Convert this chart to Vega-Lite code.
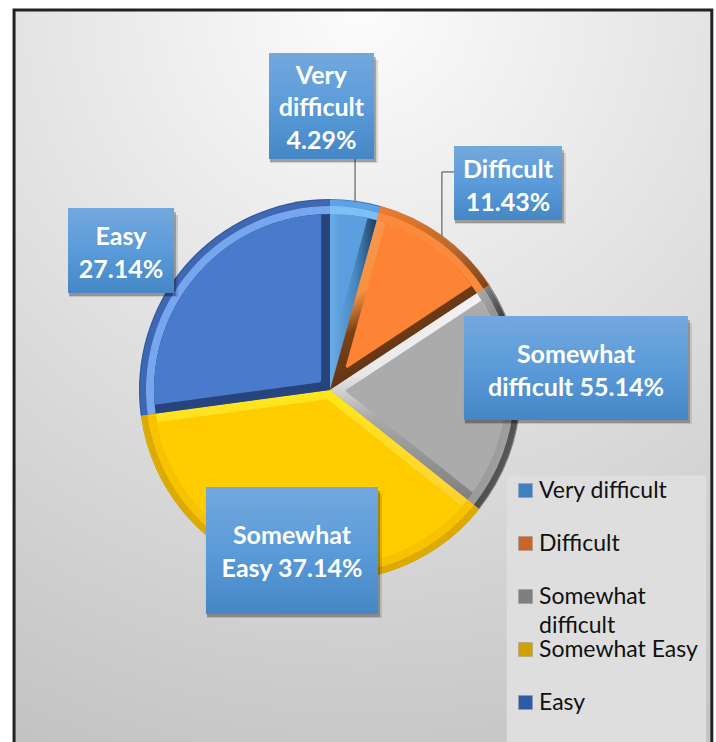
{
"$schema":"https://vega.github.io/schema/vega-lite/v6.json",
"width":716,"height":742,"autosize":{"type":"none"},"padding":0,"background":"white",
"view":{"stroke":null},
"datasets":{
"slices":[
{"label":"Very difficult","value":4.29,"order":1},
{"label":"Difficult","value":11.43,"order":2},
{"label":"Somewhat difficult","value":20,"order":3},
{"label":"Somewhat Easy","value":37.14,"order":4},
{"label":"Easy","value":27.14,"order":5}],
"boxes":[
{"lines":["Very","difficult","4.29%"],"x0":-0.321,"x1":0.232,"y0":1.216,"y1":1.774,"cx":-0.045,"cy":1.653},
{"lines":["Difficult","11.43%"],"x0":0.653,"x1":1.221,"y0":0.895,"y1":1.284,"cx":0.937,"cy":1.158},
{"lines":["Somewhat","difficult 55.14%"],"x0":0.705,"x1":1.884,"y0":-0.158,"y1":0.389,"cx":1.295,"cy":0.183},
{"lines":["Somewhat","Easy 37.14%"],"x0":-0.653,"x1":0.253,"y0":-1.179,"y1":-0.511,"cx":-0.2,"cy":-0.771},
{"lines":["Easy","27.14%"],"x0":-1.379,"x1":-0.821,"y0":0.511,"y1":0.958,"cx":-1.1,"cy":0.803}],
"leaders":[
{"x0":0.132,"x1":0.132,"y0":0.984,"y1":1.216},
{"x0":0.589,"x1":0.653,"y0":1.148,"y1":1.148},
{"x0":0.589,"x1":0.589,"y0":0.805,"y1":1.148}],
"panels":[{"x0":-1.663,"x1":2.010,"y0":-1.9,"y1":2.0}],
"legendPanel":[{"x0":0.93,"x1":1.98,"y0":-1.9,"y1":-0.45}]
},
"encoding":{},
"resolve":{"scale":{"color":"independent"}},
"layer":[
{"data":{"name":"panels"},"mark":{"type":"rect","stroke":"#222222","strokeWidth":3,"fill":{"gradient":"radial","x1":0.5,"y1":0,"r1":0,"x2":0.5,"y2":0,"r2":1.1,"stops":[{"offset":0,"color":"#fcfcfc"},{"offset":1,"color":"#c2c2c2"}]}},
"encoding":{"x":{"field":"x0","type":"quantitative","axis":null,"scale":{"domain":[-1.737,2.032],"nice":false,"zero":false}},"x2":{"field":"x1"},"y":{"field":"y0","type":"quantitative","axis":null,"scale":{"domain":[-1.853,2.053],"nice":false,"zero":false}},"y2":{"field":"y1"}}},
{"data":{"name":"legendPanel"},"mark":{"type":"rect","fill":"#dedede"},
"encoding":{"x":{"field":"x0","type":"quantitative","axis":null},"x2":{"field":"x1"},"y":{"field":"y0","type":"quantitative","axis":null},"y2":{"field":"y1"}}},
{"data":{"name":"slices"},"mark":{"type":"arc","radius":191,"radius2":0},
"encoding":{"x":{"datum":0,"type":"quantitative"},"y":{"datum":0,"type":"quantitative"},"theta":{"field":"value","type":"quantitative","stack":true,"scale":{"domain":[0,100]}},"order":{"field":"order"},
"color":{"field":"label","type":"nominal","sort":null,"scale":{"domain":["Very difficult","Difficult","Somewhat difficult","Somewhat Easy","Easy"],"range":["#3f80bf","#c8662a","#7f7f7f","#cfa200","#2f5aa5"]},
"legend":{"title":null,"orient":"none","legendX":514,"legendY":479,"symbolType":"square","symbolSize":196,"symbolOpacity":1,"labelFont":"Lato","labelFontSize":23,"labelColor":"#111111","labelOffset":2,"gridAlign":"all","rowPadding":0,"labelLimit":190,"symbolStrokeColor":"#999999","symbolStrokeWidth":0.5,"labelExpr":"datum.label=='Somewhat difficult'?['Somewhat','difficult']:datum.label",
"encoding":{"labels":{"lineHeight":{"value":29}}}}}}},
{"data":{"name":"slices"},"mark":{"type":"arc","radius":190,"radius2":0,
"fill":{"expr":"[{gradient:'linear',x1:0,y1:0,x2:1,y2:0,stops:[{offset:0,color:'#6aaee8'},{offset:0.5,color:'#4a87bf'},{offset:1,color:'#12304f'}]},{gradient:'linear',x1:0,y1:0,x2:0.5,y2:1,stops:[{offset:0,color:'#ff9a55'},{offset:0.45,color:'#f5923f'},{offset:0.6,color:'#7a4218'},{offset:1,color:'#4e2a10'}]},{gradient:'linear',x1:0,y1:0,x2:0,y2:1,stops:[{offset:0,color:'#f4f4f4'},{offset:0.4,color:'#e8e8e8'},{offset:0.6,color:'#a8a8a8'},{offset:1,color:'#7a7a7a'}]},{gradient:'linear',x1:0,y1:0,x2:0,y2:1,stops:[{offset:0,color:'#ffe61a'},{offset:0.5,color:'#ffd633'},{offset:1,color:'#e8b800'}]},'#27447c'][datum.order-1]"}},
"encoding":{"x":{"datum":0,"type":"quantitative"},"y":{"datum":0,"type":"quantitative"},"theta":{"field":"value","type":"quantitative","stack":true,"scale":{"domain":[0,100]}},"order":{"field":"order"}}},
{"data":{"name":"slices"},"mark":{"type":"arc","radius":190,"radius2":184,
"fill":{"expr":"['#5ba3e6',{gradient:'linear',x1:0,y1:0,x2:1,y2:1,stops:[{offset:0,color:'#ee7d2e'},{offset:0.6,color:'#b8682c'},{offset:1,color:'#7a4218'}]},{gradient:'linear',x1:0,y1:0,x2:0.6,y2:1,stops:[{offset:0,color:'#a0a0a0'},{offset:0.4,color:'#3a3a3a'},{offset:1,color:'#5e5e5e'}]},'#dcaa00','#3f68b4'][datum.order-1]"}},
"encoding":{"x":{"datum":0,"type":"quantitative"},"y":{"datum":0,"type":"quantitative"},"theta":{"field":"value","type":"quantitative","stack":true,"scale":{"domain":[0,100]}},"order":{"field":"order"}}},
{"data":{"name":"slices"},"mark":{"type":"arc","radius":184,"radius2":176,
"fill":{"expr":"['#7cc0f5','#fb8a3d',{gradient:'linear',x1:0,y1:0,x2:0.6,y2:1,stops:[{offset:0,color:'#b0b0b0'},{offset:0.4,color:'#8f8f8f'},{offset:1,color:'#a2a2a2'}]},'#f7c200','#76a6ee'][datum.order-1]"}},
"encoding":{"x":{"datum":0,"type":"quantitative"},"y":{"datum":0,"type":"quantitative"},"theta":{"field":"value","type":"quantitative","stack":true,"scale":{"domain":[0,100]}},"order":{"field":"order"}}},
{"data":{"name":"slices"},"mark":{"type":"arc","radius":176,"radius2":{"expr":"[72,28,16,10,13][datum.order-1]"},"padAngle":0.1,"fill":{"expr":"['#5b9fe0','#fd8435','#ababab','#ffcc00','#4a7acb'][datum.order-1]"}},
"encoding":{"x":{"datum":0,"type":"quantitative"},"y":{"datum":0,"type":"quantitative"},"theta":{"field":"value","type":"quantitative","stack":true,"scale":{"domain":[0,100]}},"order":{"field":"order"}}},
{"data":{"name":"leaders"},"mark":{"type":"rule","color":"#7f7f7f","strokeWidth":1.5},
"encoding":{"x":{"field":"x0","type":"quantitative"},"x2":{"field":"x1"},"y":{"field":"y0","type":"quantitative"},"y2":{"field":"y1"}}},
{"data":{"name":"boxes"},"mark":{"type":"rect","fill":"#000000","opacity":0.12,"xOffset":1,"x2Offset":4,"yOffset":4,"y2Offset":7},
"encoding":{"x":{"field":"x0","type":"quantitative"},"x2":{"field":"x1"},"y":{"field":"y0","type":"quantitative"},"y2":{"field":"y1"}}},
{"data":{"name":"boxes"},"mark":{"type":"rect","fill":"#000000","opacity":0.25,"xOffset":1,"x2Offset":2,"yOffset":3,"y2Offset":4},
"encoding":{"x":{"field":"x0","type":"quantitative"},"x2":{"field":"x1"},"y":{"field":"y0","type":"quantitative"},"y2":{"field":"y1"}}},
{"data":{"name":"boxes"},"mark":{"type":"rect","fill":{"gradient":"linear","x1":0,"y1":0,"x2":0,"y2":1,"stops":[{"offset":0,"color":"#73a8dd"},{"offset":0.5,"color":"#5b9bd9"},{"offset":1,"color":"#4586c6"}]}},
"encoding":{"x":{"field":"x0","type":"quantitative"},"x2":{"field":"x1"},"y":{"field":"y0","type":"quantitative"},"y2":{"field":"y1"}}},
{"data":{"name":"boxes"},"mark":{"type":"text","font":"Lato","fontWeight":"bold","fontSize":25,"color":"white","lineHeight":32.5,"align":"center","baseline":"middle"},
"encoding":{"x":{"field":"cx","type":"quantitative"},"y":{"field":"cy","type":"quantitative"},"text":{"field":"lines"}}}
]
}
